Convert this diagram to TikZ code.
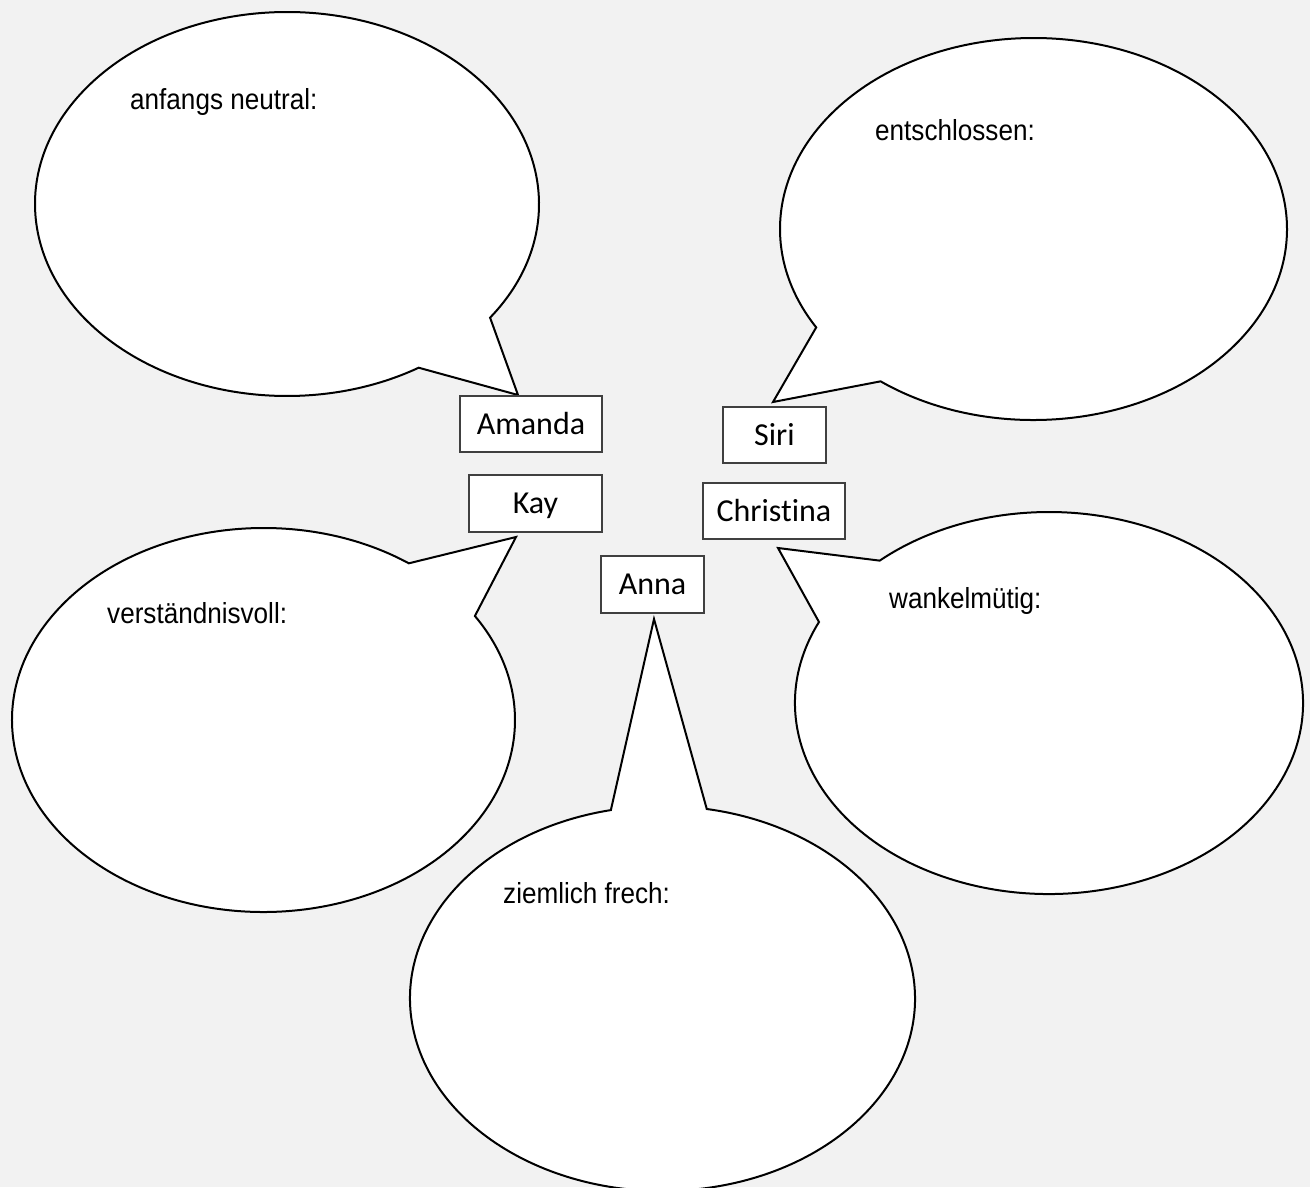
\documentclass[tikz,border=0pt]{standalone}
\usepackage{fontspec}
\usetikzlibrary{calc}
\newfontfamily\bubblefont[FakeStretch=0.9]{Liberation Sans}
\newfontfamily\namefont[Ligatures=NoCommon]{Carlito}
\definecolor{bggray}{HTML}{F2F2F2}
\definecolor{boxline}{HTML}{404040}
\tikzset{
  bubble/.style={draw=black, fill=white, line width=2pt, line join=miter},
  namebox/.style={draw=boxline, fill=white, line width=1.3pt, inner sep=0pt,
    font=\namefont\fontsize{32}{36}\selectfont, text height=20.5pt, text depth=0pt},
  bubbletext/.style={anchor=base west, inner sep=0pt, font=\bubblefont\fontsize{29}{34}\selectfont}
}
\begin{document}
\begin{tikzpicture}[x=1pt,y=-1pt]
\useasboundingbox (0,0) rectangle (1310,1187);
\fill[bggray] (0,0) rectangle (1310,1187);
\clip (0,0) rectangle (1310,1187);

% ellipse centres and tail tips
\coordinate (c1) at (287,204);
\coordinate (t1) at (518,395);
\coordinate (c2) at (263.5,720);
\coordinate (t2) at (516,537);
\coordinate (c3) at (662.5,998.5);
\coordinate (t3) at (654,619);
\coordinate (c4) at (1033.5,229);
\coordinate (t4) at (773,402);
\coordinate (c5) at (1049,703);
\coordinate (t5) at (778,548);

% bubble 1: anfangs neutral
\draw[bubble] ($(c1)+(-36.3:252pt and 192pt)$)
  arc[start angle=-36.3, end angle=301.5, x radius=252pt, y radius=192pt]
  -- (t1) -- cycle;
% bubble 2: verstaendnisvoll
\draw[bubble] ($(c2)+(54.7:251.5pt and 192pt)$)
  arc[start angle=54.7, end angle=392.8, x radius=251.5pt, y radius=192pt]
  -- (t2) -- cycle;
% bubble 3: ziemlich frech
\draw[bubble] ($(c3)+(101.8:252.5pt and 192.5pt)$)
  arc[start angle=101.8, end angle=439.9, x radius=252.5pt, y radius=192.5pt]
  -- (t3) -- cycle;
% bubble 4: entschlossen
\draw[bubble] ($(c4)+(232.9:253.5pt and 191pt)$)
  arc[start angle=232.9, end angle=571.0, x radius=253.5pt, y radius=191pt]
  -- (t4) -- cycle;
% bubble 5: wankelmuetig
\draw[bubble] ($(c5)+(154.9:254pt and 191pt)$)
  arc[start angle=154.9, end angle=491.8, x radius=254pt, y radius=191pt]
  -- (t5) -- cycle;

% bubble texts
\node[bubbletext] (l1) at (130,109) {anfangs neutral:};
\node[bubbletext] (l4) at (875,140) {entschlossen:};
\node[bubbletext] (l2) at (107,623) {verständnisvoll:};
\node[bubbletext] (l5) at (889,608) {wankelmütig:};
\node[bubbletext] (l3) at (503,903) {ziemlich frech:};

% name boxes
\node[namebox, minimum width=142pt, minimum height=56pt] (amanda) at (531,424) {Amanda};
\node[namebox, minimum width=133pt, minimum height=57pt] (kay) at (535.5,503.5) {Kay};
\node[namebox, minimum width=103pt, minimum height=56pt] (siri) at (774.5,435) {Siri};
\node[namebox, minimum width=142pt, minimum height=56pt] (christina) at (774,511) {Christina};
\node[namebox, minimum width=103pt, minimum height=57pt] (anna) at (652.5,584.5) {Anna};
\end{tikzpicture}
\end{document}
